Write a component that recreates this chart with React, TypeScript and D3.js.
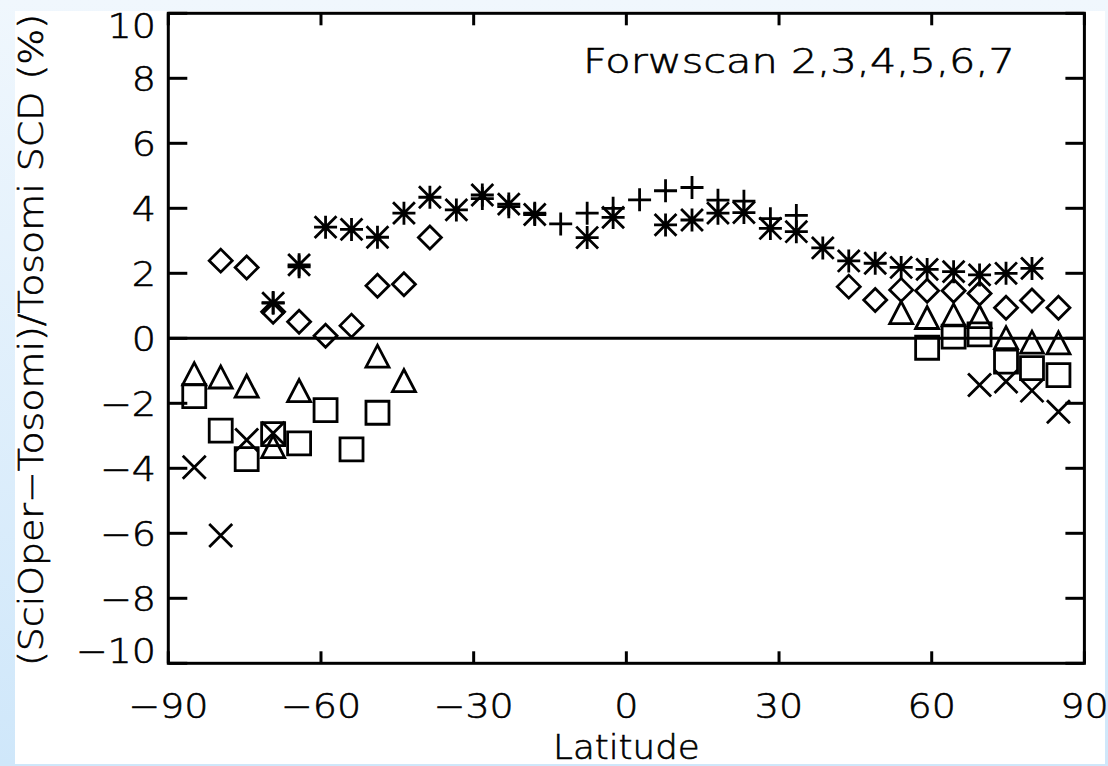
import React from "react";
import * as d3 from "d3";

// Latitude bin centres (degrees)
const LAT = [-84.9, -79.7, -74.6, -69.4, -64.3, -59.1, -54.0, -48.9, -43.7, -38.6, -33.4, -28.3, -23.1, -18.0, -12.9, -7.7, -2.6,
  2.6, 7.7, 12.9, 18.0, 23.1, 28.3, 33.4, 38.6, 43.7, 48.9, 54.0, 59.1, 64.3, 69.4, 74.6, 79.7, 84.9];

const N = null;
// Forward scans 2..7, one marker each
const scan2Plus = [N, N, N, 1.1, 2.2, N, N, N, N, N, N, 4.3, 4.05, 3.85, 3.52, 3.85, 4.0,
  4.26, 4.54, 4.64, 4.25, 4.22, 3.68, 3.78, N, N, N, N, N, N, N, N, N, N];
const scan3Asterisk = [N, N, N, 1.08, 2.26, 3.42, 3.35, 3.11, 3.85, 4.34, 3.95, 4.41, 4.13, 3.81, N, 3.1, 3.72,
  N, 3.49, 3.64, 3.85, 3.87, 3.38, 3.28, 2.78, 2.38, 2.31, 2.18, 2.12, 2.05, 1.95, 2.0, 2.15, N];
const scan4Diamond = [N, 2.39, 2.18, 0.82, 0.51, 0.08, 0.39, 1.62, 1.66, 3.1, N, N, N, N, N, N, N,
  N, N, N, N, N, N, N, N, 1.59, 1.18, 1.49, 1.46, 1.46, 1.38, 0.94, 1.16, 0.94];
const scan5Triangle = [-1.09, -1.19, -1.47, -3.33, -1.61, N, N, -0.55, -1.3, N, N, N, N, N, N, N, N,
  N, N, N, N, N, N, N, N, N, N, 0.79, 0.64, 0.72, 0.67, 0.02, -0.12, -0.14];
const scan6Square = [-1.78, -2.84, -3.72, -2.95, -3.23, -2.21, -3.42, -2.29, N, N, N, N, N, N, N, N, N,
  N, N, N, N, N, N, N, N, N, N, N, -0.29, 0.05, 0.12, -0.72, -0.92, -1.13];
const scan7Cross = [-3.97, -6.07, -3.13, -2.92, N, N, N, N, N, N, N, N, N, N, N, N, N,
  N, N, N, N, N, N, N, N, N, N, N, N, N, -1.44, -1.33, -1.61, -2.26];

const X_TICKS = [-90, -60, -30, 0, 30, 60, 90];
const Y_TICKS = [-10, -8, -6, -4, -2, 0, 2, 4, 6, 8, 10];
const TITLE_X = "Latitude";
const TITLE_Y = "(SciOper\u2212Tosomi)/Tosomi SCD (%)";
const NOTE = "Forwscan 2,3,4,5,6,7";

const W = 1108, H = 766;
const L = 168.3, R = 1084.4, T = 13.3, B = 663.3;
const FONT = "'DejaVu Sans', sans-serif";
const TXT = { fontWeight: 200, stroke: "#000", strokeWidth: 0.6 } as const;

const x = d3.scaleLinear().domain([-90, 90]).range([L, R]);
const y = d3.scaleLinear().domain([-10, 10]).range([B, T]);

function fmt(v: number) {
  return v < 0 ? "\u2212" + Math.abs(v) : String(v);
}

type Shape = "plus" | "asterisk" | "diamond" | "triangle" | "square" | "cross";

function markerPath(shape: Shape, cx: number, cy: number): string {
  const r = 11.5;
  const p = d3.path();
  if (shape === "plus" || shape === "asterisk") {
    p.moveTo(cx - r, cy); p.lineTo(cx + r, cy);
    p.moveTo(cx, cy - r); p.lineTo(cx, cy + r);
  }
  if (shape === "asterisk" || shape === "cross") {
    const q = shape === "asterisk" ? r * 0.95 : 11.5;
    p.moveTo(cx - q, cy - q); p.lineTo(cx + q, cy + q);
    p.moveTo(cx - q, cy + q); p.lineTo(cx + q, cy - q);
  }
  if (shape === "diamond") {
    p.moveTo(cx - r, cy); p.lineTo(cx, cy - r); p.lineTo(cx + r, cy); p.lineTo(cx, cy + r); p.closePath();
  }
  if (shape === "triangle") {
    p.moveTo(cx - r, cy + 11); p.lineTo(cx, cy - 11); p.lineTo(cx + r, cy + 11); p.closePath();
  }
  if (shape === "square") {
    const s = 11.5;
    p.rect(cx - s, cy - s, 2 * s, 2 * s);
  }
  return p.toString();
}

const SERIES: { shape: Shape; values: (number | null)[] }[] = [
  { shape: "plus", values: scan2Plus },
  { shape: "asterisk", values: scan3Asterisk },
  { shape: "diamond", values: scan4Diamond },
  { shape: "triangle", values: scan5Triangle },
  { shape: "square", values: scan6Square },
  { shape: "cross", values: scan7Cross },
];

export default function App() {
  return (
    <svg width={W} height={H} style={{ position: "absolute", left: 0, top: 0, display: "block" }}
      fontFamily={FONT}>
      <defs>
        <linearGradient id="bg" x1="0" y1="0" x2="0" y2="1">
          <stop offset="0" stopColor="#f0f7fd" />
          <stop offset="1" stopColor="#cfe7fa" />
        </linearGradient>
      </defs>
      <rect x={0} y={0} width={W} height={H} fill="url(#bg)" />
      <rect x={15} y={11} width={1090} height={753} fill="#ffffff" />

      {/* zero line */}
      <line x1={L} x2={R} y1={y(0)} y2={y(0)} stroke="#000" strokeWidth={3} />

      {/* markers */}
      {SERIES.map((s) =>
        s.values.map((v, i) =>
          v === null ? null : (
            <path key={s.shape + i} d={markerPath(s.shape, x(LAT[i]), y(v))}
              fill="none" stroke="#000" strokeWidth={2.8} />
          )
        )
      )}

      {/* frame */}
      <rect x={L} y={T} width={R - L} height={B - T} fill="none" stroke="#000" strokeWidth={3} />

      {/* x ticks */}
      {X_TICKS.map((t) => (
        <g key={"xt" + t}>
          <line x1={x(t)} x2={x(t)} y1={B} y2={B - 12} stroke="#000" strokeWidth={3} />
          <line x1={x(t)} x2={x(t)} y1={T} y2={T + 12} stroke="#000" strokeWidth={3} />
          <g transform={`translate(${x(t)}, 718) scale(1.12, 1)`}>
            <text x={0} y={0} textAnchor="middle" fontSize={34} {...TXT}>{fmt(t)}</text>
          </g>
        </g>
      ))}

      {/* y ticks */}
      {Y_TICKS.map((t) => (
        <g key={"yt" + t}>
          <line x1={L} x2={L + 19} y1={y(t)} y2={y(t)} stroke="#000" strokeWidth={3} />
          <line x1={R} x2={R - 19} y1={y(t)} y2={y(t)} stroke="#000" strokeWidth={3} />
          <g transform={`translate(156, ${Math.min(Math.max(y(t) + 13, T + 25), B)}) scale(1.12, 1)`}>
            <text x={0} y={0} textAnchor="end" fontSize={34} {...TXT}>{fmt(t)}</text>
          </g>
        </g>
      ))}

      <text x={583} y={73} fontSize={33} {...TXT} textLength={432} lengthAdjust="spacingAndGlyphs">{NOTE}</text>

      <g transform={`translate(${(L + R) / 2}, 759) scale(1.08, 1)`}>
        <text x={0} y={0} textAnchor="middle" fontSize={33} {...TXT}>{TITLE_X}</text>
      </g>

      <text transform={`translate(43, 340) rotate(-90)`} textAnchor="middle" fontSize={34} {...TXT}
        textLength={652} lengthAdjust="spacingAndGlyphs">{TITLE_Y}</text>
    </svg>
  );
}
